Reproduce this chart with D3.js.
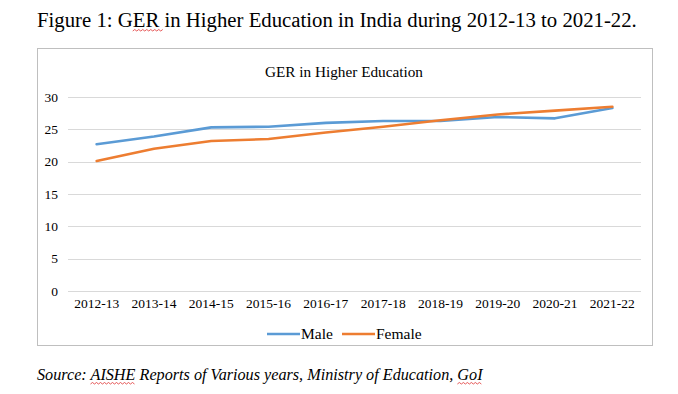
<!DOCTYPE html>
<html><head><meta charset="utf-8">
<script src="https://cdn.jsdelivr.net/npm/d3@7"></script>
<style>html,body{margin:0;padding:0;background:#fff;}svg{display:block;}</style>
</head><body>
<svg id="c" width="678" height="394"></svg>
<script>
const categories = ["2012-13","2013-14","2014-15","2015-16","2016-17","2017-18","2018-19","2019-20","2020-21","2021-22"];
const maleValues = [22.7,23.9,25.3,25.4,26.0,26.3,26.3,26.9,26.7,28.3];
const femaleValues = [20.1,22.0,23.2,23.5,24.5,25.4,26.4,27.3,27.9,28.5];
const yTicks = [0,5,10,15,20,25,30];
const seriesNames = ["Male","Female"];
const seriesColors = ["#5b9bd5","#ed7d31"];

const svg = d3.select("#c");
const serif = "'Liberation Serif','Times New Roman',serif";

function fitText(sel, base, target){
  const w = sel.node().getComputedTextLength();
  sel.attr("font-size", base*target/w);
}

// Figure caption
const cap = svg.append("text").attr("x",37).attr("y",27)
  .attr("font-family",serif).attr("font-size",21).attr("fill","#000")
  .text("Figure 1: GER in Higher Education in India during 2012-13 to 2021-22.");
fitText(cap, 21, 600);

function squiggle(x0,x1,y){
  let d = `M${x0},${y}`; let up=true;
  for(let x=x0+2;x<=x1;x+=2){ d+=` L${x},${up?y-1.5:y}`; up=!up; }
  svg.append("path").attr("d",d).attr("fill","none").attr("stroke","#e03030").attr("stroke-width",0.8);
}

// chart frame
svg.append("rect").attr("x",37.5).attr("y",48.5).attr("width",615).attr("height",297)
  .attr("fill","#fff").attr("stroke","#bfbfbf").attr("stroke-width",1);

const x = d3.scaleBand().domain(categories).range([68,641]);
const y = d3.scaleLinear().domain([0,30]).range([291,97]);

// gridlines
svg.append("g").selectAll("line").data(yTicks).join("line")
  .attr("x1",68).attr("x2",641).attr("y1",d=>Math.round(y(d))+0.5).attr("y2",d=>Math.round(y(d))+0.5)
  .attr("stroke","#d9d9d9").attr("stroke-width",1);

// y axis labels
const yAxis = d3.axisLeft(y).tickValues(yTicks).tickSize(0).tickPadding(5);
const gy = svg.append("g").attr("transform","translate(63,0)").call(yAxis);
gy.select(".domain").remove();
gy.selectAll("text").attr("font-family",serif).attr("font-size",13.5).attr("fill","#000");

// x axis labels
const xAxis = d3.axisBottom(x).tickSize(0).tickPadding(7);
const gx = svg.append("g").attr("transform","translate(0,291)").call(xAxis);
gx.select(".domain").remove();
gx.selectAll("text").attr("font-family",serif).attr("font-size",13.5).attr("fill","#000");

// chart title
const ttl = svg.append("text").attr("x",344).attr("y",77).attr("text-anchor","middle")
  .attr("font-family",serif).attr("font-size",15).attr("fill","#000").text("GER in Higher Education");
fitText(ttl, 15, 158);

// lines
const line = d3.line().x((d,i)=>x(categories[i])+x.bandwidth()/2).y(d=>y(d));
[maleValues,femaleValues].forEach((vals,k)=>{
  svg.append("path").datum(vals).attr("d",line).attr("fill","none")
    .attr("stroke",seriesColors[k]).attr("stroke-width",2.6).attr("stroke-linejoin","round").attr("stroke-linecap","round");
});

// legend
const legX = [267,342];
seriesNames.forEach((n,k)=>{
  svg.append("line").attr("x1",legX[k]).attr("x2",legX[k]+33).attr("y1",334).attr("y2",334)
    .attr("stroke",seriesColors[k]).attr("stroke-width",2.6);
  svg.append("text").attr("x",legX[k]+34).attr("y",339).attr("font-family",serif)
    .attr("font-size",15.5).attr("fill","#000").text(n);
});

// source
const src = svg.append("text").attr("x",37).attr("y",380).attr("font-family",serif)
  .attr("font-style","italic").attr("font-size",14).attr("fill","#000")
  .text("Source: AISHE Reports of Various years, Ministry of Education, GoI");
fitText(src, 14, 446);

// spell-check squiggles
function charBox(node, i0, i1){
  const a = node.getStartPositionOfChar(i0), b = node.getEndPositionOfChar(i1);
  return [a.x,b.x];
}
let s = charBox(cap.node(), 11, 13); squiggle(s[0], s[1], 31);
let s2 = charBox(src.node(), 8, 12); squiggle(s2[0], s2[1], 384);
let s3 = charBox(src.node(), 63, 65); squiggle(s3[0], s3[1], 384);
</script>
</body></html>
